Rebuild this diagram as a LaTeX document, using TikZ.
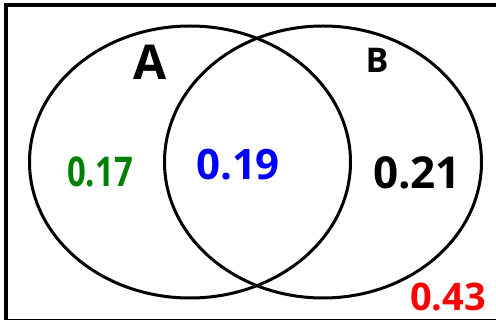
\documentclass[tikz,border=0pt]{standalone}
\usepackage{fontspec}
\usepackage{graphicx}
\setmainfont{Open Sans}
\usetikzlibrary{shapes.geometric}
\definecolor{vgreen}{RGB}{0,128,0}
\definecolor{vblue}{RGB}{0,0,255}
\definecolor{vred}{RGB}{255,0,0}
\begin{document}
\begin{tikzpicture}[x=1pt,y=-1pt,
  setcircle/.style={draw=black,line width=3pt},
  lbl/.style={inner sep=0pt,anchor=center}]
\useasboundingbox (0,0) rectangle (496,320);
\begin{scope}
\clip (0,0) rectangle (496,320);
\draw[line width=4pt] (6,5) rectangle (510,321);
\end{scope}
\node[setcircle,ellipse,minimum width=321pt,minimum height=272pt,inner sep=0pt] (cA) at (190,162) {};
\node[setcircle,ellipse,minimum width=317pt,minimum height=272pt,inner sep=0pt] (cB) at (323,162) {};
\node[lbl,font=\fontsize{48}{52}\selectfont\bfseries] (lA) at (150,62) {A};
\node[lbl,font=\fontsize{34}{38}\selectfont\bfseries] (lB) at (377,60) {B};
\node[lbl,text=vgreen,font=\fontsize{41}{45}\selectfont\bfseries] (onlyA) at (100,172) {\scalebox{0.8}[1]{0.17}};
\node[lbl,text=vblue,font=\fontsize{42}{46}\selectfont\bfseries] (both) at (238,165) {0.19};
\node[lbl,text=black,font=\fontsize{44}{48}\selectfont\bfseries] (onlyB) at (417,173) {0.21};
\node[lbl,text=vred,font=\fontsize{38}{42}\selectfont\bfseries] (none) at (448,297) {0.43};
\end{tikzpicture}
\end{document}
